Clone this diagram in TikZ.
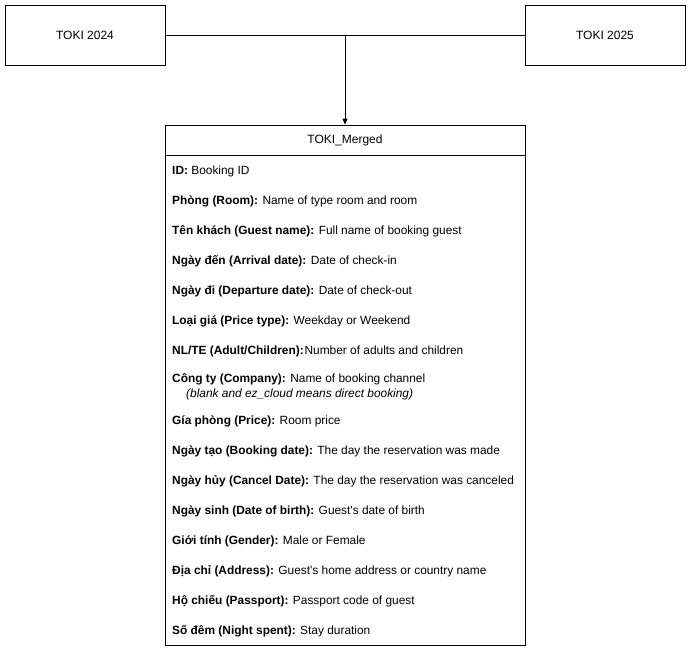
\documentclass[tikz,border=0pt]{standalone}
\usepackage{fontspec}
\setmainfont{Liberation Sans}
\usetikzlibrary{arrows.meta,positioning}

\tikzset{
  table/.style={draw, line width=0.9pt, minimum width=160pt, minimum height=60pt, inner sep=0pt},
  field/.style={anchor=west, inner sep=0pt, font=\fontsize{11.9}{14}\selectfont},
}

\begin{document}
\begin{tikzpicture}[x=1pt, y=-1pt]
        \useasboundingbox (0,0) rectangle (691,651);
        \node[table, font=\fontsize{12}{14}\selectfont] (toki24) at (85,35) {TOKI 2024};
        \node[table, font=\fontsize{12}{14}\selectfont] (toki25) at (605,35) {TOKI 2025};
        \node[table, minimum width=360pt, minimum height=520pt] (merged) at (345,385) {};
        \node[table, minimum width=360pt, minimum height=30pt, font=\fontsize{12}{14}\selectfont] (header) at (345,140) {TOKI\_Merged};

        % fields of the merged table
        \foreach \y/\key/\val [count=\i] in {
            171/{ID:}/{Booking ID},
            201/{Phòng (Room):}/{Name of type room and room},
            231/{Tên khách (Guest name):}/{Full name of booking guest},
            261/{Ngày đến (Arrival date):}/{Date of check-in},
            291/{Ngày đi (Departure date):}/{Date of check-out},
            321/{Loại giá (Price type):}/{Weekday or Weekend},
            351/{NL/TE (Adult/Children):}/{\hspace{-0.3em}Number of adults and children},
            379/{Công ty (Company):}/{Name of booking channel},
            421/{Gía phòng (Price):}/{Room price},
            451/{Ngày tạo (Booking date):}/{The day the reservation was made},
            481/{Ngày hủy (Cancel Date):}/{The day the reservation was canceled},
            511/{Ngày sinh (Date of birth):}/{Guest\textquotesingle s date of birth},
            541/{Giới tính (Gender):}/{Male or Female},
            571/{Địa chỉ (Address):}/{Guest\textquotesingle s home address or country name},
            601/{Hộ chiếu (Passport):}/{Passport code of guest},
            631/{Số đêm (Night spent):}/{Stay duration}}
          \node[field] (f\i) at (172,\y) {\textbf{\key} \val};
        \node[field] (note) at (186,394) {\textit{(blank and ez\_cloud means direct booking)}};

        \coordinate (join) at (345,35);
        \draw[line width=0.9pt] (toki24.east) -- (toki25.west);
        \draw[line width=0.9pt, -{Triangle[length=6pt,width=5pt]}] (join) -- (header.north);
\end{tikzpicture}
\end{document}
